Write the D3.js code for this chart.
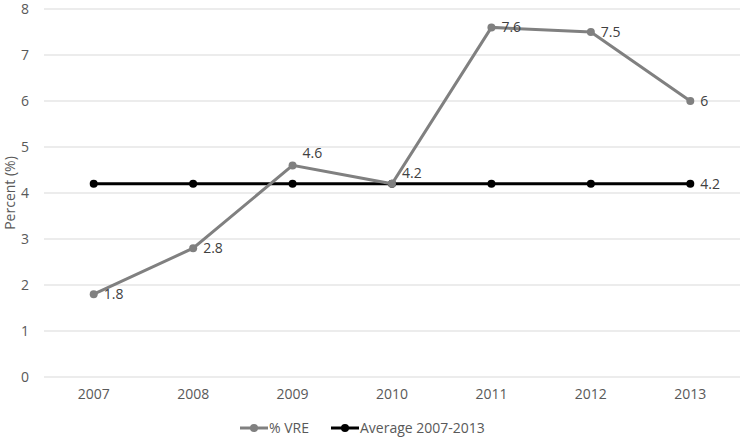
<!DOCTYPE html>
<html>
<head>
<meta charset="utf-8">
<script src="https://d3js.org/d3.v7.min.js"></script>
<style>
  body { margin: 0; background: #fff; }
  svg text { font-family: "Open Sans", "Liberation Sans", sans-serif; }
</style>
</head>
<body>
<script>
// chart data
var years = ["2007", "2008", "2009", "2010", "2011", "2012", "2013"];
var vre = [1.8, 2.8, 4.6, 4.2, 7.6, 7.5, 6];
var average = [4.2, 4.2, 4.2, 4.2, 4.2, 4.2, 4.2];
var yTicks = [0, 1, 2, 3, 4, 5, 6, 7, 8];

var width = 742, height = 437;
var margin = {top: 9, right: 2, bottom: 60, left: 44};
var innerW = width - margin.left - margin.right;
var innerH = height - margin.top - margin.bottom;
var fontSize = "14px";

var svg = d3.select("body").append("svg")
    .attr("width", width)
    .attr("height", height);

var canvas = svg.append("g")
    .attr("transform", "translate(" + margin.left + "," + margin.top + ")");

var x = d3.scaleBand().domain(years).range([0, innerW]);
var y = d3.scaleLinear().domain([0, 8]).range([innerH, 0]);
var cx = function(d, i) { return x(years[i]) + x.bandwidth() / 2; };

// gridlines
canvas.selectAll("line.grid")
  .data(yTicks)
  .enter()
  .append("line")
    .attr("class", "grid")
    .attr("x1", 0).attr("x2", innerW)
    .attr("y1", function(d) { return y(d); })
    .attr("y2", function(d) { return y(d); })
    .attr("stroke", "#d9d9d9")
    .attr("stroke-width", 1);

// y axis labels
var yAxis = canvas.append("g")
    .call(d3.axisLeft(y).tickValues(yTicks).tickSize(0).tickPadding(15).tickFormat(d3.format("d")));
yAxis.select(".domain").remove();
yAxis.selectAll("text").attr("fill", "#595959").style("font-size", fontSize);

// x axis labels
var xAxis = canvas.append("g")
    .attr("transform", "translate(0," + innerH + ")")
    .call(d3.axisBottom(x).tickSize(0).tickPadding(12));
xAxis.select(".domain").remove();
xAxis.selectAll("text").attr("fill", "#595959").style("font-size", fontSize);

// axis title
svg.append("text")
    .attr("transform", "translate(15," + (margin.top + innerH / 2) + ") rotate(-90)")
    .attr("text-anchor", "middle")
    .attr("fill", "#595959")
    .style("font-size", fontSize)
    .text("Percent (%)");

var line = d3.line()
    .x(cx)
    .y(function(d) { return y(d); });

function drawSeries(values, colour) {
  canvas.append("path")
      .datum(values)
      .attr("d", line)
      .attr("fill", "none")
      .attr("stroke", colour)
      .attr("stroke-width", 3);
  canvas.selectAll(null)
    .data(values)
    .enter()
    .append("circle")
      .attr("cx", cx)
      .attr("cy", function(d) { return y(d); })
      .attr("r", 4)
      .attr("fill", colour);
}

drawSeries(average, "#000000");
drawSeries(vre, "#808080");

// data labels (a couple are nudged up to avoid the average line)
var nudge = {2: -12, 3: -11};
canvas.selectAll("text.vre")
  .data(vre)
  .enter()
  .append("text")
    .attr("class", "vre")
    .attr("x", function(d, i) { return cx(d, i) + 10; })
    .attr("y", function(d, i) { return y(d) + (nudge[i] || 0); })
    .attr("dy", "0.35em")
    .attr("fill", "#404040")
    .style("font-size", fontSize)
    .text(function(d) { return d; });

var last = average.length - 1;
canvas.append("text")
    .attr("x", cx(average[last], last) + 10)
    .attr("y", y(average[last]))
    .attr("dy", "0.35em")
    .attr("fill", "#404040")
    .style("font-size", fontSize)
    .text(average[last]);

// legend
var legendItems = [
  {name: "% VRE", colour: "#808080", x: 240},
  {name: "Average 2007-2013", colour: "#000000", x: 331}
];
var legend = svg.selectAll("g.legend")
  .data(legendItems)
  .enter()
  .append("g")
    .attr("class", "legend")
    .attr("transform", function(d) { return "translate(" + d.x + ",428)"; });
legend.append("line")
    .attr("x1", 0).attr("x2", 28)
    .attr("stroke", function(d) { return d.colour; })
    .attr("stroke-width", 3);
legend.append("circle")
    .attr("cx", 14).attr("r", 4)
    .attr("fill", function(d) { return d.colour; });
legend.append("text")
    .attr("x", 29)
    .attr("dy", "0.35em")
    .attr("fill", "#595959")
    .style("font-size", fontSize)
    .text(function(d) { return d.name; });
</script>
</body>
</html>
